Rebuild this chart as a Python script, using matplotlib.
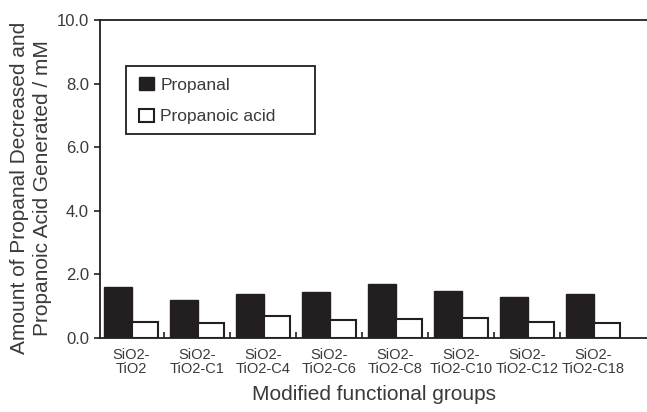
import matplotlib
matplotlib.use("Agg")
import matplotlib.pyplot as plt
import numpy as np
from matplotlib.ticker import FixedLocator, FormatStrFormatter
from matplotlib.patches import Rectangle

plt.rcParams['font.family'] = ['Liberation Sans', 'DejaVu Sans']

categories = ["SiO2-\nTiO2", "SiO2-\nTiO2-C1", "SiO2-\nTiO2-C4", "SiO2-\nTiO2-C6",
              "SiO2-\nTiO2-C8", "SiO2-\nTiO2-C10", "SiO2-\nTiO2-C12", "SiO2-\nTiO2-C18"]
propanal = [1.60, 1.20, 1.39, 1.44, 1.71, 1.49, 1.30, 1.39]
propanoic_acid = [0.51, 0.47, 0.68, 0.57, 0.60, 0.64, 0.51, 0.47]
yticks = [0.0, 2.0, 4.0, 6.0, 8.0, 10.0]

fig = plt.figure(figsize=(6.47, 4.12), dpi=100)
ax = fig.add_axes([100/647, 74/412, 547/647, 318/412])

x = np.arange(len(categories))
ax.bar(x - 0.414, propanal, width=0.424, align='edge', color='#231f20',
       edgecolor='#231f20', linewidth=1.0, label='Propanal')
ax.bar(x + 0.01, propanoic_acid, width=0.40, align='edge', color='white',
       edgecolor='#231f20', linewidth=1.5, label='Propanoic acid')

ax.set_xlim(-0.475, -0.475 + 547/65.95)
ax.set_ylim(0, 10)
ax.set_xticks(x)
ax.set_xticklabels(categories, fontsize=10.5, color='#3a3a3a', linespacing=1.0)
ax.xaxis.set_minor_locator(FixedLocator(x[:-1] + 0.5))
ax.tick_params(axis='x', which='major', length=0, pad=7)
ax.tick_params(axis='x', which='minor', direction='in', length=4, width=1.2, color='#231f20')
ax.set_yticks(yticks)
ax.yaxis.set_major_formatter(FormatStrFormatter('%.1f'))
ax.tick_params(axis='y', direction='out', length=4, width=1.2, labelsize=12,
               colors='#231f20', labelcolor='#3a3a3a', pad=4)

for s in ['left', 'top', 'bottom']:
    ax.spines[s].set_linewidth(1.3)
    ax.spines[s].set_color('#231f20')
ax.spines['right'].set_visible(False)

ax.set_xlabel('Modified functional groups', fontsize=15, color='#3a3a3a', labelpad=7)
ax.set_ylabel('Amount of Propanal Decreased and\nPropanoic Acid Generated / mM',
              fontsize=15, color='#3a3a3a', linespacing=1.25)
ax.yaxis.set_label_coords(-0.088, 0.472)

leg = ax.legend(loc='upper left', bbox_to_anchor=(0.072, 0.822), fontsize=12.5,
                frameon=False, handlelength=0.85, handleheight=0.85, handletextpad=0.35,
                borderpad=0, labelspacing=0.92, borderaxespad=0)
for t in leg.get_texts():
    t.set_color('#3a3a3a')
ax.add_patch(Rectangle((26/547, (338-134)/318), (315-126)/547, 68/318,
                       transform=ax.transAxes, fill=False, edgecolor='#231f20',
                       linewidth=1.3, clip_on=False, zorder=5))

fig.savefig('out.png', dpi=100)
